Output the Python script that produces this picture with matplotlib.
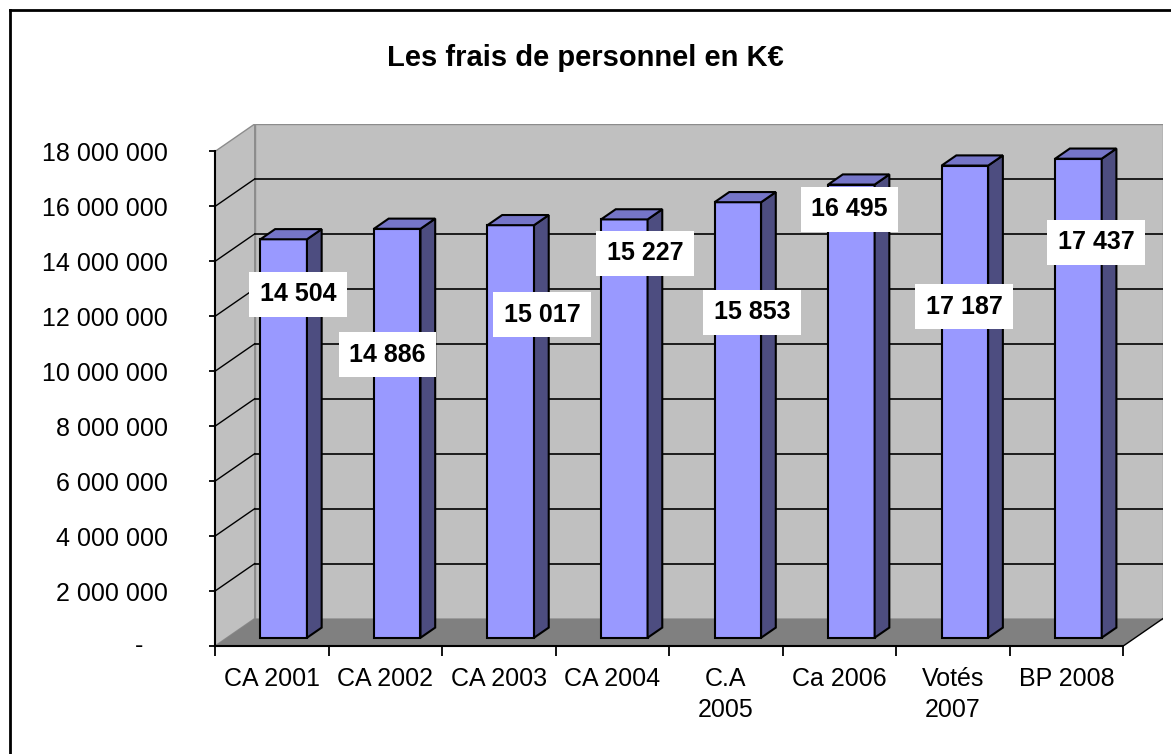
import matplotlib
matplotlib.use("Agg")
import matplotlib.pyplot as plt
from matplotlib.patches import Polygon
from matplotlib.lines import Line2D
import numpy as np

# data (K€)
categories = ["CA 2001", "CA 2002", "CA 2003", "CA 2004", "C.A\n2005",
              "Ca 2006", "Votés\n2007", "BP 2008"]
frais_keur = [14504, 14886, 15017, 15227, 15853, 16495, 17187, 17437]
yticks = [0, 2e6, 4e6, 6e6, 8e6, 10e6, 12e6, 14e6, 16e6, 18e6]

# where Excel left the data labels (offset in categories, height in axis units)
label_dx = [0.23, 0.02, 0.38, 0.29, 0.23, 0.09, 0.10, 0.26]
label_y = [12.8e6, 10.6e6, 12.05e6, 14.3e6, 12.15e6, 15.9e6, 12.35e6, 14.7e6]

plt.rcParams['font.family'] = ['Liberation Sans', 'DejaVu Sans']

values = np.array(frais_keur) * 1000.0
n = len(categories)
x = np.arange(n)

# fake 3D geometry
Dx, Dy = 0.35, 1.0e6      # depth of the walls
f0, fd = 0.30, 0.37       # bar front position and bar depth (fraction of wall depth)
w = 0.41
ymax = 18e6

fig = plt.figure(figsize=(11.71, 7.54), dpi=100)
ax = fig.add_axes([215 / 1171, 108 / 754, 948 / 1171, 522 / 754])
ax.set_xlim(-0.5, n - 0.5 + Dx)
ax.set_ylim(0, ymax + Dy)
ax.patch.set_visible(False)

x0, x1 = -0.5, n - 0.5
wall = '#c0c0c0'
edge = '#8c8c8c'

# left wall, back wall, floor
ax.add_patch(Polygon([(x0, 0), (x0, ymax), (x0 + Dx, ymax + Dy), (x0 + Dx, Dy)],
                     closed=True, fc=wall, ec=edge, lw=1, zorder=1))
ax.add_patch(Polygon([(x0 + Dx, Dy), (x0 + Dx, ymax + Dy), (x1 + Dx, ymax + Dy), (x1 + Dx, Dy)],
                     closed=True, fc=wall, ec=edge, lw=1, zorder=1))
ax.add_patch(Polygon([(x0, 0), (x1, 0), (x1 + Dx, Dy), (x0 + Dx, Dy)],
                     closed=True, fc='#808080', ec='none', zorder=1.5))
ax.plot([x1, x1 + Dx], [0, Dy], color='black', lw=1, zorder=2)

# gridlines
for v in yticks[1:-1]:
    ax.plot([x0 + Dx, x1 + Dx], [v + Dy, v + Dy], color='black', lw=1.2, zorder=2)
    ax.plot([x0, x0 + Dx], [v, v + Dy], color='black', lw=1, zorder=2)

# bars
front = '#9999ff'
side = '#4d4d80'
top = '#7575c8'
xf = x + f0 * Dx
yb = f0 * Dy
ax.bar(xf, values, width=w, bottom=yb, color=front, edgecolor='black', lw=1.5, zorder=3)
for xi, v in zip(xf, values):
    r = xi + w / 2
    l = xi - w / 2
    ddx, ddy = fd * Dx, fd * Dy
    ax.add_patch(Polygon([(r, yb), (r + ddx, yb + ddy), (r + ddx, yb + v + ddy), (r, yb + v)],
                         closed=True, fc=side, ec='black', lw=1.5, zorder=3))
    ax.add_patch(Polygon([(l, yb + v), (r, yb + v), (r + ddx, yb + v + ddy), (l + ddx, yb + v + ddy)],
                         closed=True, fc=top, ec='black', lw=1.5, zorder=3))

# data labels
for i, v in enumerate(frais_keur):
    txt = f"{v:,}".replace(",", " ")
    ax.text(x[i] + label_dx[i], label_y[i], txt, ha='center', va='center',
            fontsize=18, fontweight='bold', zorder=5,
            bbox=dict(boxstyle='square,pad=0.42', fc='white', ec='none'))

# axes
for s in ['top', 'right']:
    ax.spines[s].set_visible(False)
ax.spines['left'].set_bounds(0, ymax)
ax.spines['bottom'].set_bounds(x0, x1)
ax.spines['left'].set_linewidth(1.5)
ax.spines['bottom'].set_linewidth(1.5)
ax.spines['left'].set_zorder(4)
ax.spines['bottom'].set_zorder(4)

ax.set_yticks(yticks)
ax.set_yticklabels([''] + [f"{int(v):,}".replace(",", " ") for v in yticks[1:]])
ax.tick_params(axis='y', direction='out', length=4.5, width=1.3, pad=29.5, labelsize=18)
ax.annotate('-', xy=(x0, 0), xytext=(-52, 0), textcoords='offset points',
            ha='right', va='center', fontsize=18, annotation_clip=False)

ax.set_xticks(np.arange(n + 1) - 0.5)
ax.set_xticklabels([])
ax.set_xticks(x, minor=True)
ax.set_xticklabels(categories, minor=True, fontsize=18, linespacing=1.4)
ax.tick_params(axis='x', which='major', direction='out', length=7, width=1.3)
ax.tick_params(axis='x', which='minor', length=0, pad=15)

fig.text(585 / 1171, 1 - 58 / 754, "Les frais de personnel en K€", ha='center', va='center',
         fontsize=21, fontweight='bold')

# chart area border
fig.add_artist(Line2D([9.5 / 1171, 9.5 / 1171], [0, 1 - 10 / 754], color='black', lw=2))
fig.add_artist(Line2D([9.5 / 1171, 1], [1 - 10 / 754, 1 - 10 / 754], color='black', lw=2))

fig.savefig("out.png", dpi=100)
